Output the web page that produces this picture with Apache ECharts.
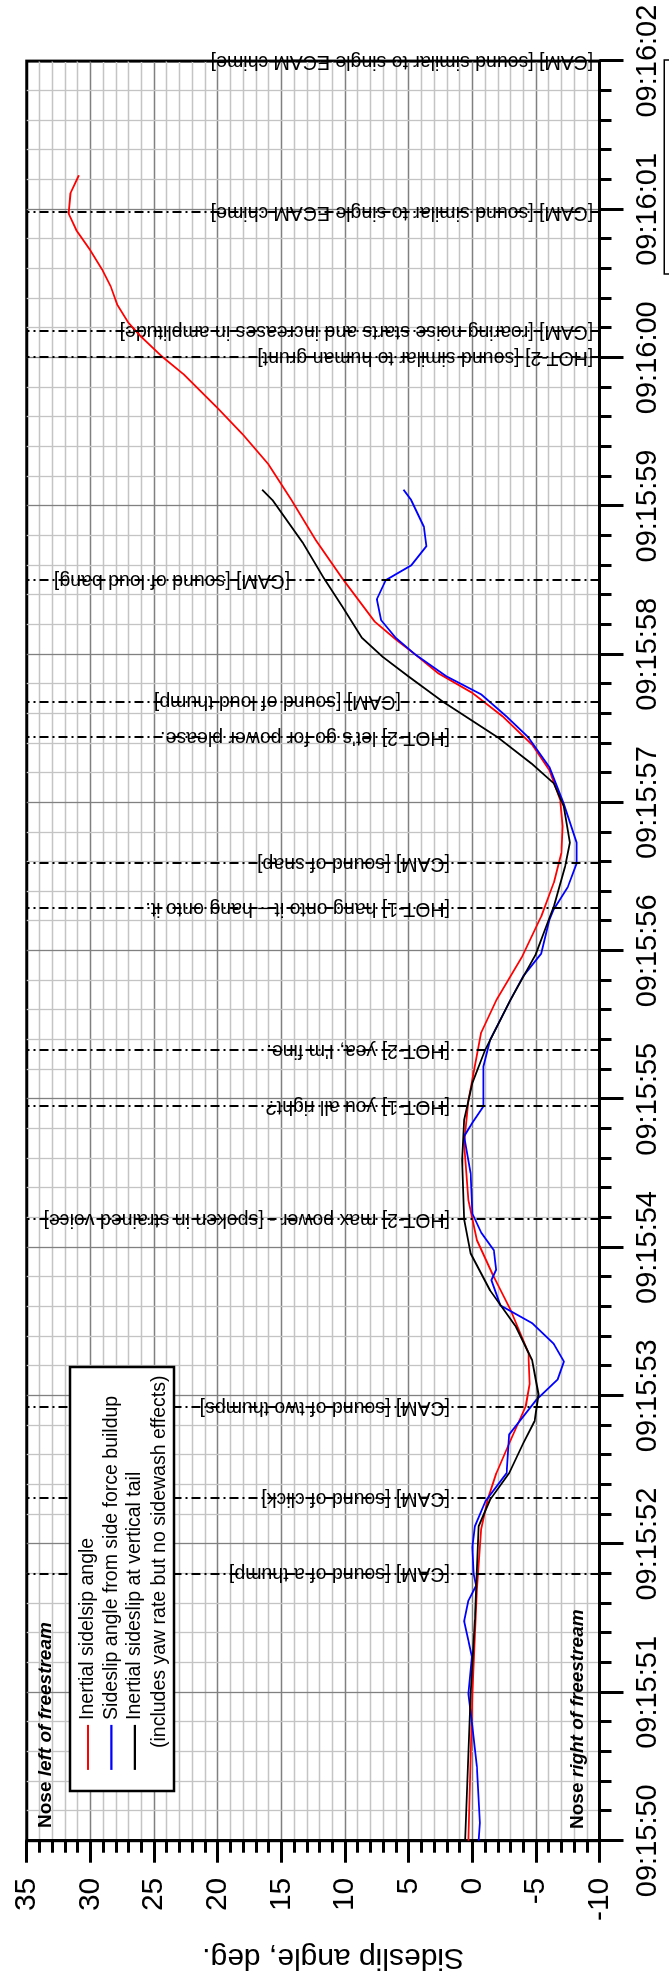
<!DOCTYPE html>
<html>
<head>
<meta charset="utf-8">
<script src="https://cdn.jsdelivr.net/npm/echarts@6/dist/echarts.min.js"></script>
<style>
  html, body { margin: 0; padding: 0; width: 669px; height: 1982px; overflow: hidden; background: #fff; }
  /* The chart is laid out landscape and turned a quarter turn counter-clockwise */
  #chart { position: absolute; left: 0; top: 0; width: 1982px; height: 669px;
           transform-origin: 0 0; transform: translate(0, 1982px) rotate(-90deg); }
</style>
</head>
<body>
<div id="chart"></div>
<script>
const FONT = '"Liberation Sans", Arial, Helvetica, sans-serif';

// Time axis: seconds after 09:15:50
const timeLabels = ['09:15:50', '09:15:51', '09:15:52', '09:15:53', '09:15:54', '09:15:55', '09:15:56',
                    '09:15:57', '09:15:58', '09:15:59', '09:16:00', '09:16:01', '09:16:02'];

// Inertial sideslip angle
const redTime = [0.00, 0.99, 1.69, 2.10, 2.30, 2.48, 2.68, 2.93, 3.08, 3.29, 3.58, 3.80, 4.05, 4.32, 4.70,
                 4.99, 5.45, 5.67, 5.96, 6.23, 6.46, 6.66, 6.84, 7.02, 7.22, 7.39, 7.58, 7.74, 7.87, 8.00,
                 8.10, 8.22, 8.51, 8.77, 9.04, 9.28, 9.48, 9.66, 9.89, 10.01, 10.14, 10.24, 10.36, 10.48,
                 10.59, 10.73, 10.86, 10.97, 11.11, 11.23];
const redDeg = [0.3, 0.0, -0.36, -0.7, -1.2, -1.9, -2.9, -4.2, -4.5, -4.4, -3.0, -1.7, -0.36, 0.3, 0.64,
                0.3, -0.7, -1.9, -3.9, -5.4, -6.4, -7.0, -7.1, -6.9, -6.05, -4.7, -2.4, 0.0, 2.64, 4.5,
                6.0, 7.66, 10.2, 12.3, 14.2, 16.0, 18.0, 20.0, 22.7, 24.4, 26.0, 27.05, 27.9, 28.4,
                29.05, 30.05, 31.1, 31.7, 31.56, 30.9];

// Sideslip angle from side force buildup
const blueTime = [0.00, 0.12, 0.50, 0.77, 0.99, 1.24, 1.35, 1.48, 1.62, 1.72, 1.80, 1.98, 2.12, 2.29, 2.48,
                  2.74, 2.97, 3.11, 3.23, 3.35, 3.49, 3.61, 3.78, 3.85, 3.98, 4.10, 4.23, 4.50, 4.75, 4.84,
                  4.95, 5.22, 5.40, 5.67, 5.83, 5.98, 6.21, 6.28, 6.43, 6.59, 6.73, 6.99, 7.24, 7.44, 7.58,
                  7.73, 7.85, 8.00, 8.11, 8.23, 8.37, 8.50, 8.60, 8.73, 8.86, 9.04, 9.11];
const blueDeg = [-0.5, -0.6, -0.36, 0.0, 0.3, 0.04, 0.3, 0.64, 0.3, -0.3, -0.1, 0.0, -0.2, -1.04, -2.7,
                 -2.9, -5.0, -6.7, -7.2, -6.4, -4.7, -2.2, -1.5, -1.87, -1.7, -0.7, 0.0, 0.13, 0.64, 0.0,
                 -0.87, -0.87, -1.4, -3.0, -4.0, -5.4, -6.05, -6.4, -7.5, -8.2, -8.2, -7.2, -6.05, -4.4, -2.7,
                 -0.7, 2.0, 4.5, 6.0, 7.16, 7.5, 6.8, 4.8, 3.6, 3.8, 4.8, 5.4];

// Inertial sideslip at vertical tail
const blackTime = [0.00, 0.99, 1.49, 2.12, 2.30, 2.48, 2.68, 2.83, 3.01, 3.24, 3.47, 3.71, 3.96, 4.19, 4.59,
                   4.86, 5.11, 5.33, 5.67, 5.98, 6.30, 6.57, 6.73, 6.97, 7.13, 7.26, 7.44, 7.68, 7.85, 7.98,
                   8.11, 8.32, 8.52, 8.75, 9.04, 9.11];
const blackDeg = [0.57, 0.13, -0.2, -0.5, -1.4, -2.9, -4.0, -4.9, -5.2, -4.7, -3.4, -1.4, 0.13, 0.64, 0.8,
                  0.64, 0.0, -1.0, -3.0, -5.0, -6.4, -7.3, -7.66, -7.2, -6.4, -4.7, -2.0, 2.3, 5.0, 7.0,
                  8.66, 10.2, 11.7, 13.3, 15.7, 16.5];

// Cockpit recorder events: time, transcript text, angle where the text begins
const noteTime = [1.80, 2.31, 2.92, 4.19, 4.95, 5.33, 6.29, 6.59, 7.44, 7.68, 8.50, 10.00, 10.18, 10.98, 12.00];
const noteText = [
  '[CAM] [sound of a thump]',
  '[CAM] [sound of click]',
  '[CAM] [sound of two thumps]',
  '[HOT-2] max power - [spoken in strained voice]',
  '[HOT-1] you all right?',
  "[HOT-2] yea, I'm fine.",
  '[HOT-1] hang onto it \u2013 hang onto it.',
  '[CAM] [sound of snap]',
  "[HOT-2] let's go for power please.",
  '[CAM] [sound of loud thump]',
  '[CAM] [sound of loud bang]',
  '[HOT-2] [sound similar to human grunt]',
  '[CAM] [roaring noise starts and increases in amplitude]',
  '[CAM] [sound similar to single ECAM chime]',
  '[CAM] [sound similar to single ECAM chime]'
];
const noteFrom = [1.75, 1.75, 1.75, 1.75, 1.75, 1.75, 1.75, 1.75, 1.75, 5.6, 14.3, -9.5, -9.5, -9.5, -9.5];

const seriesNames = ['Inertial sidelsip angle', 'Sideslip angle from side force buildup', 'Inertial sideslip at vertical tail'];

const pairs = (ts, vs) => ts.map((t, i) => [t, vs[i]]);

const chart = echarts.init(document.getElementById('chart'), null, { width: 1982, height: 669, renderer: 'canvas' });

const lineSeries = (name, color, ts, vs) => ({
  type: 'line', name, data: pairs(ts, vs), symbol: 'none', showSymbol: false, smooth: false,
  lineStyle: { color, width: 1.8 }, itemStyle: { color }, z: 4, silent: true
});

// Side captions: "Nose" upright bold, the rest bold italic
const sideRich = {
  a: { fontSize: 19, fontWeight: 'bold', fontFamily: FONT, color: '#000', lineHeight: 22 },
  b: { fontSize: 19, fontWeight: 'bold', fontStyle: 'italic', fontFamily: FONT, color: '#000', lineHeight: 22 }
};
const sideNote = (left, top, rest) => ({
  text: '{a|Nose} {b|' + rest + '}', left, top, padding: 0, z: 11,
  textStyle: { fontSize: 19, fontWeight: 'bold', fontFamily: FONT, color: '#000', lineHeight: 22, rich: sideRich }
});

const option = {
  animation: false,
  backgroundColor: '#fff',
  textStyle: { fontFamily: FONT },
  title: [
    sideNote(154, 34.5, 'left of freestream'),
    sideNote(153, 566.6, 'right of freestream')
  ],
  grid: { left: 141.3, right: 61.1, top: 26.7, bottom: 69.4, show: true, borderColor: '#000', borderWidth: 3,
          containLabel: false, outerBoundsMode: 'none' },
  xAxis: {
    type: 'value', min: 0, max: 12, interval: 1,
    axisLine: { show: true, onZero: false, lineStyle: { color: '#000', width: 3 } },
    axisTick: { show: true, length: 24, lineStyle: { color: '#000', width: 3 } },
    minorTick: { show: true, splitNumber: 5, length: 12, lineStyle: { color: '#000', width: 3 } },
    axisLabel: { margin: 34, fontSize: 29, color: '#000', fontFamily: FONT, showMinLabel: true, showMaxLabel: true,
                 formatter: v => timeLabels[Math.round(v)] },
    splitLine: { show: true, showMinLine: false, showMaxLine: false, lineStyle: { color: '#808080', width: 1.3 } },
    minorSplitLine: { show: true, lineStyle: { color: '#c4c4c4', width: 1.3 } }
  },
  yAxis: {
    type: 'value', min: -10, max: 35, interval: 5,
    name: 'Sideslip angle, deg.', nameLocation: 'middle', nameGap: 102, nameRotate: 90,
    nameTextStyle: { fontSize: 30, color: '#000', fontFamily: FONT, padding: [0, 40, 0, 0] },
    axisLine: { show: true, onZero: false, lineStyle: { color: '#000', width: 3 } },
    axisTick: { show: true, length: 22, lineStyle: { color: '#000', width: 3 } },
    minorTick: { show: true, splitNumber: 5, length: 12, lineStyle: { color: '#000', width: 3 } },
    axisLabel: { margin: 37, fontSize: 30, color: '#000', fontFamily: FONT, showMinLabel: true, showMaxLabel: true },
    splitLine: { show: true, showMinLine: false, showMaxLine: false, lineStyle: { color: '#808080', width: 1.3 } },
    minorSplitLine: { show: true, lineStyle: { color: '#c4c4c4', width: 1.3 } }
  },
  legend: {
    data: seriesNames, orient: 'vertical', left: 211, top: 78, padding: 0,
    itemWidth: 45, itemHeight: 14, itemGap: 3.4, z: 10, selectedMode: false,
    itemStyle: { opacity: 0 },
    lineStyle: { width: 2.2 },
    textStyle: { fontSize: 19.5, lineHeight: 20, color: '#000', fontFamily: FONT }
  },
  graphic: [
    { type: 'rect', z: 9, shape: { x: 191, y: 70, width: 424, height: 104 },
      style: { fill: '#fff', stroke: '#000', lineWidth: 2.5 } },
    { type: 'text', z: 11, x: 234, y: 159.5,
      style: { text: '(includes yaw rate but no sidewash effects)', fontSize: 19.5, fontFamily: FONT, fill: '#000',
               align: 'left', verticalAlign: 'middle' } },
    { type: 'rect', z: 9, shape: { x: 1708, y: 664.3, width: 214, height: 40 },
      style: { fill: 'none', stroke: '#000', lineWidth: 1.5 } }
  ],
  series: [
    {
      type: 'custom', name: 'events', silent: true, z: 3,
      data: noteTime.map((t, i) => [t, noteFrom[i]]),
      renderItem: (params, api) => {
        const p = api.coord([api.value(0), api.value(1)]);
        return {
          type: 'text', x: p[0], y: p[1], rotation: Math.PI / 2,
          style: { text: noteText[params.dataIndex], fontSize: 19.5, fontFamily: FONT, fill: '#000',
                   align: 'left', verticalAlign: 'middle' }
        };
      },
      markLine: {
        silent: true, symbol: 'none', label: { show: false },
        lineStyle: { color: '#000', width: 2, type: [9, 4, 2, 4] },
        data: noteTime.map(t => ({ xAxis: t }))
      }
    },
    lineSeries(seriesNames[0], '#ff0000', redTime, redDeg),
    lineSeries(seriesNames[1], '#0000ff', blueTime, blueDeg),
    lineSeries(seriesNames[2], '#000000', blackTime, blackDeg)
  ]
};

chart.setOption(option);
</script>
</body>
</html>
